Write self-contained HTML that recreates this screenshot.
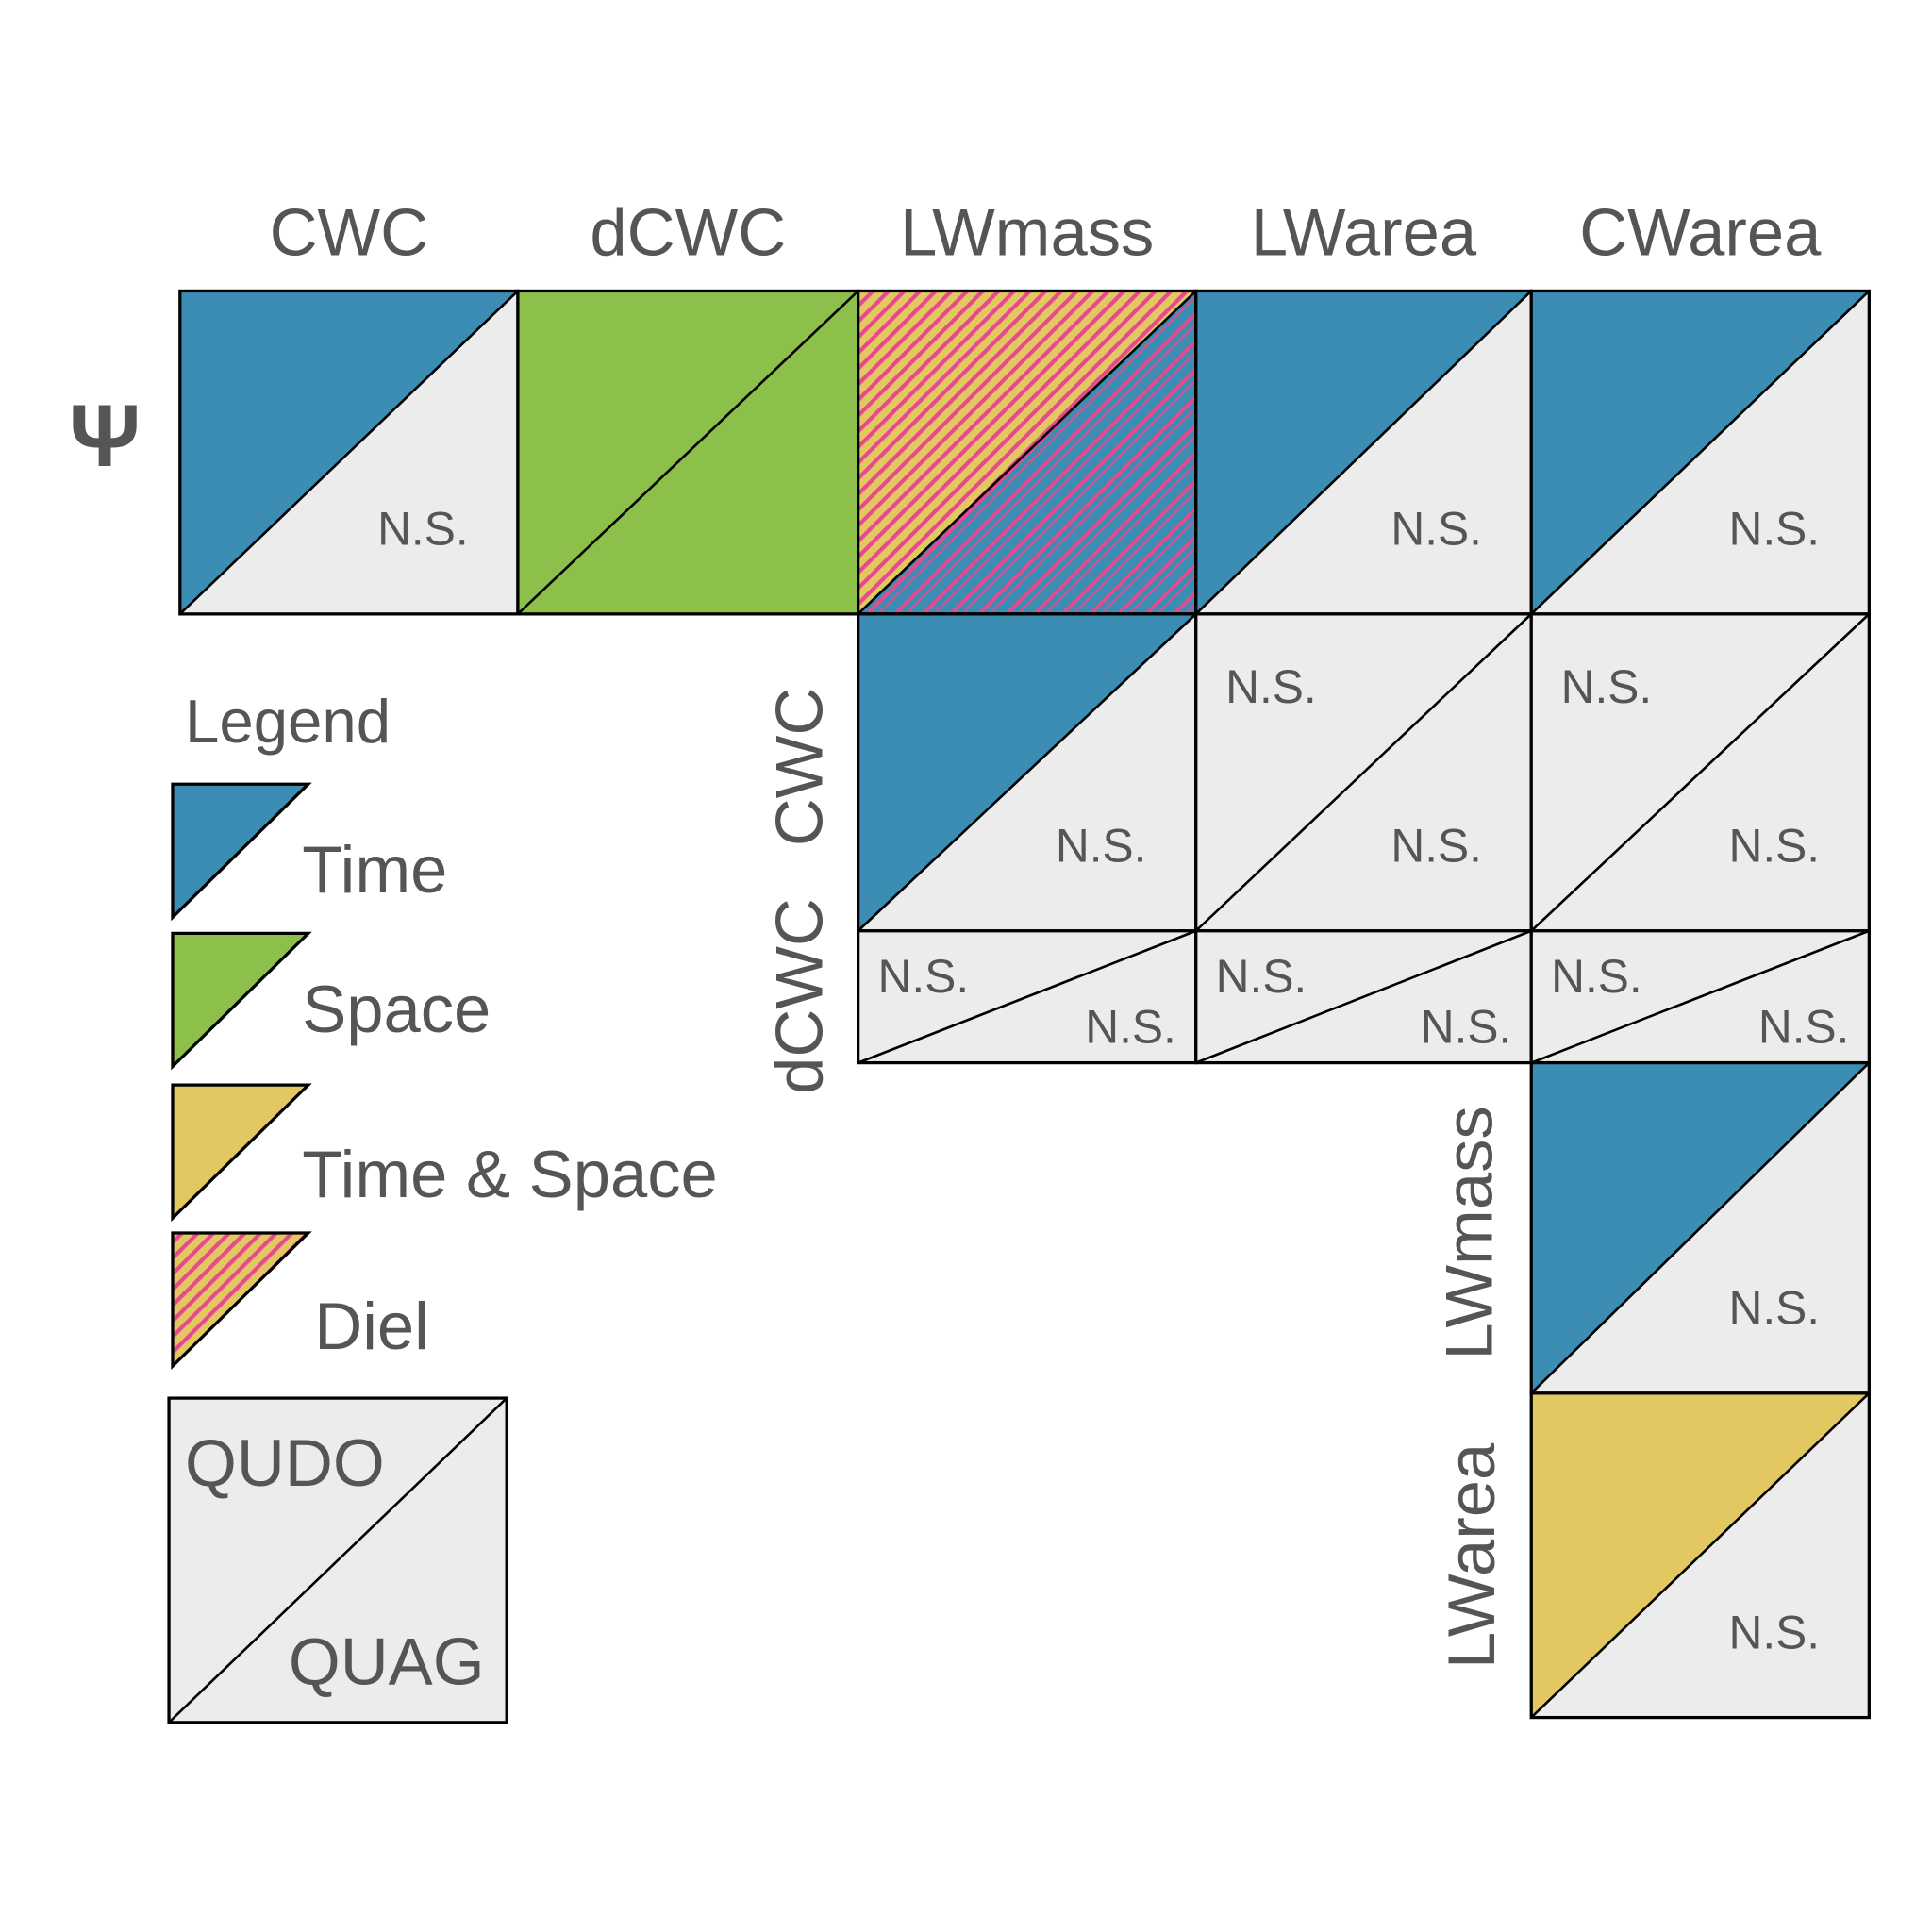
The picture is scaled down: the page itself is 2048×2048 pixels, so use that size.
<!DOCTYPE html>
<html><head><meta charset="utf-8"><style>
html,body{margin:0;padding:0;background:#fff}
svg{display:block}
text{font-family:"Liberation Sans",sans-serif;fill:#555}
</style></head><body>
<svg id="chart" width="2048" height="2048" viewBox="0 0 1567 1567" xmlns="http://www.w3.org/2000/svg">
<defs>
<pattern id="dielA" patternUnits="userSpaceOnUse" width="9" height="9" patternTransform="rotate(-45)">
<rect width="9" height="9" fill="#e3c862"/><rect width="9" height="3.2" fill="#e64a8e"/>
</pattern>
<pattern id="dielB" patternUnits="userSpaceOnUse" width="16" height="16" patternTransform="rotate(-45)">
<rect width="16" height="16" fill="#3b8db4"/><rect width="16" height="3" fill="#e64a8e"/><rect y="7" width="16" height="1.5" fill="#e64a8e"/>
</pattern>
</defs>
<g id="cells"></g>
<g id="labels"></g>
<g id="legend">
<text x="150" y="602" font-size="50">Legend</text>
</g>
</svg>
<script>
// grid boundaries
const colEdges = [146, 420, 696, 970, 1242, 1516];
const rowEdges = [236, 498, 755, 862, 1130, 1393];
const colNames = ['CWC','dCWC','LWmass','LWarea','CWarea'];
const rowNames = ['Ψ','CWC','dCWC','LWmass','LWarea'];
// each cell: row, col, upper (QUDO) category, lower (QUAG) category
const cellRows = [0,0,0,0,0, 1,1,1, 2,2,2, 3, 4];
const cellCols = [0,1,2,3,4, 2,3,4, 2,3,4, 4, 4];
const upperCat = ['time','space','dielTS','time','time','time','ns','ns','ns','ns','ns','time','ts'];
const lowerCat = ['ns','space','dielT','ns','ns','ns','ns','ns','ns','ns','ns','ns','ns'];
const legendCats = ['time','space','ts','diel'];
const legendLabels = ['Time','Space','Time & Space','Diel'];

const fills = {time:'#3b8db4', space:'#8dc04b', ts:'#e3c862', ns:'#ececec', dielTS:'url(#dielA)', dielT:'url(#dielB)', diel:'url(#dielA)'};
const NS = 'http://www.w3.org/2000/svg';
const cellsG = document.getElementById('cells');
const labelsG = document.getElementById('labels');
function mk(tag, attrs, parent){const e=document.createElementNS(NS,tag);for(const k in attrs)e.setAttribute(k,attrs[k]);parent.appendChild(e);return e;}

for(let i=0;i<cellRows.length;i++){
  const r=cellRows[i], c=cellCols[i];
  const x0=colEdges[c], x1=colEdges[c+1], y0=rowEdges[r], y1=rowEdges[r+1];
  const g=mk('g',{},cellsG);
  
  
  const up=mk('polygon',{points:`${x0},${y0} ${x1},${y0} ${x0},${y1}`,fill:fills[upperCat[i]]},g);
  
  
  const lo=mk('polygon',{points:`${x1},${y0} ${x1},${y1} ${x0},${y1}`,fill:fills[lowerCat[i]]},g);
  
  
  mk('rect',{x:x0,y:y0,width:x1-x0,height:y1-y0,fill:'none',stroke:'#000','stroke-width':2.5},g);
  mk('line',{x1:x0,y1:y1,x2:x1,y2:y0,stroke:'#000','stroke-width':2},g);
  const short=(y1-y0)<150;
  if(upperCat[i]==='ns'){
    const t=mk('text',{x:short?x0+16:x0+24,y:short?y0+50:y0+72,'font-size':38},g);t.textContent='N.S.';
    
  }
  if(lowerCat[i]==='ns'){
    const t=mk('text',{x:x1-16,y:short?y1-16:y1-56,'font-size':38,'text-anchor':'end'},g);t.textContent='N.S.';
    if(!short) t.setAttribute('x', x1-40);
    
  }
}
// column headers
colNames.forEach((n,c)=>{
  const t=mk('text',{x:(colEdges[c]+colEdges[c+1])/2,y:207,'font-size':54,'text-anchor':'middle'},labelsG);
  t.textContent=n;
  
  
});
// row headers
const psi=mk('text',{x:85,y:378,'font-size':72,'font-weight':'bold','text-anchor':'middle','font-family':'Liberation Serif, serif'},labelsG);
psi.textContent='Ψ';


const rotRows=[[1,667],[2,667],[3,1210],[4,1212]];
rotRows.forEach(([r,x])=>{
  let yy = r===1?622:(r===2?808:(r===3?1000:1262));
  const t=mk('text',{x:x,y:yy,'font-size':54,'text-anchor':'middle',transform:`rotate(-90 ${x} ${yy})`},labelsG);
  t.textContent=rowNames[r];
  
  
});
// legend
const legG=document.getElementById('legend');
const legTop=[636,757,880,1000];
const legTextX=[245,245,245,255];
const legTextY=[724,837,971,1094];
legendCats.forEach((cat,i)=>{
  const y0=legTop[i], y1=y0+108, x0=140, x1=250;
  const g=mk('g',{},legG);
  
  
  mk('polygon',{points:`${x0},${y0} ${x1},${y0} ${x0},${y1}`,fill:fills[cat],stroke:'#000','stroke-width':2.5},g);
  const t=mk('text',{x:legTextX[i],y:legTextY[i],'font-size':54},g);
  t.textContent=legendLabels[i];
});
const kg=mk('g',{},legG);


mk('rect',{x:137,y:1134,width:274,height:263,fill:'#ececec',stroke:'#000','stroke-width':2.5},kg);
mk('line',{x1:137,y1:1397,x2:411,y2:1134,stroke:'#000','stroke-width':2},kg);
const q1=mk('text',{x:150,y:1205,'font-size':54},kg);q1.textContent='QUDO';
const q2=mk('text',{x:393,y:1366,'font-size':54,'text-anchor':'end'},kg);q2.textContent='QUAG';
</script>
</body></html>
